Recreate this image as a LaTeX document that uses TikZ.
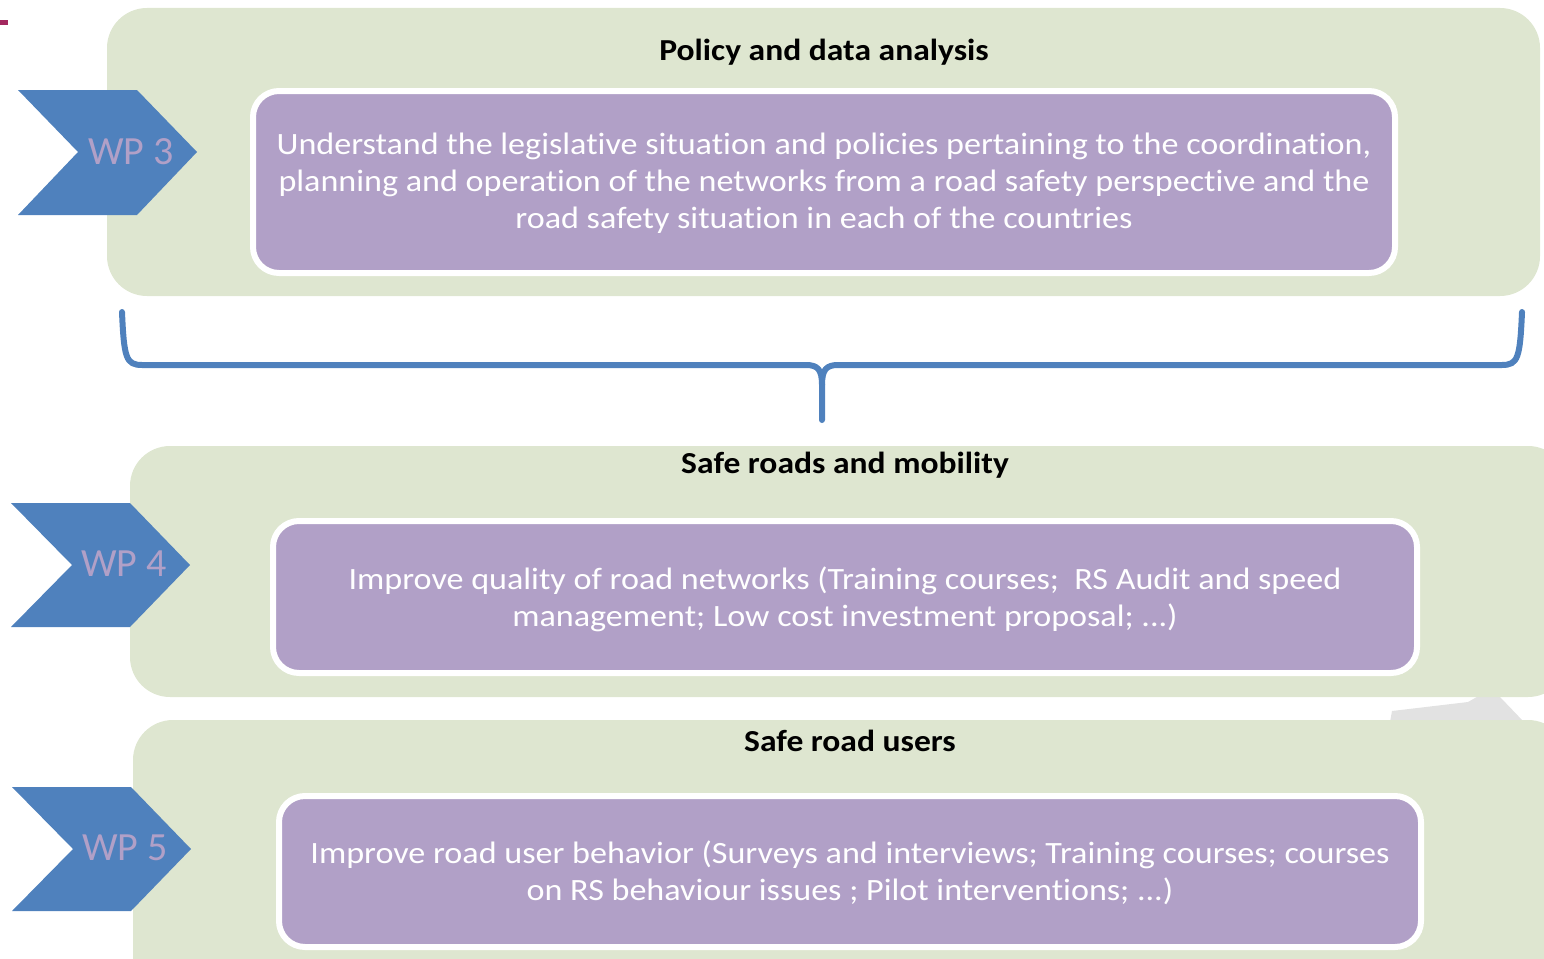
\documentclass[tikz,border=0pt]{standalone}
\usepackage{fontspec}
\setmainfont{Carlito}[Ligatures=NoCommon]
\newfontfamily\widefont[FakeStretch=1.1,Ligatures=NoCommon]{Carlito}
\newfontfamily\titlefont[FakeStretch=1.1,Ligatures=NoCommon,BoldFont={Carlito Bold}]{Carlito}
\definecolor{panelgreen}{HTML}{DEE6D0}
\definecolor{boxpurple}{HTML}{B1A0C7}
\definecolor{chevblue}{HTML}{4F81BD}
\definecolor{markred}{HTML}{A3285F}
\definecolor{ghost}{HTML}{E2E2E2}
\tikzset{
  panel/.style={fill=panelgreen, draw=none, rounded corners=40pt},
  taskbox/.style={fill=boxpurple, draw=white, line width=6pt, rounded corners=26pt},
  tasktext/.style={text=white, align=center, font=\widefont\fontsize{31}{37}\selectfont},
  paneltitle/.style={font=\titlefont\bfseries\fontsize{30.5}{34}\selectfont, text=black},
  chevron/.style={fill=chevblue, draw=none},
  wplabel/.style={text=boxpurple, font=\fontsize{40}{46}\selectfont},
  bracket/.style={draw=chevblue, line width=6pt, line cap=round, line join=round}
}
\begin{document}
\begin{tikzpicture}[x=1pt,y=-1pt]
\useasboundingbox (0,0) rectangle (1544,958);
\begin{scope}
\clip (0,0) rectangle (1544,958);
% grey shape hidden behind the panels
\fill[ghost] (1390,722) -- (1392,711) -- (1468,702) -- (1482,694) -- (1500,697) -- (1524,722) -- cycle;
% panels
\fill[panel] (107,8) rectangle (1540,296);
\fill[panel] (130,446) rectangle (1568,697);
\fill[panel] (133,720) rectangle (1568,1000);
\end{scope}
% red mark
\fill[markred] (0,20) rectangle (8,25);
% titles
\node[paneltitle] (t1) at (824,52) {Policy and data analysis};
\node[paneltitle] (t2) at (845,465) {Safe roads and mobility};
\node[paneltitle] (t3) at (850,741) {Safe road users};
% task boxes
\draw[taskbox] (253,91) rectangle (1395,273);
\node[tasktext] (b1) at (824,183) {Understand the legislative situation and policies pertaining to the coordination,\\planning and operation of the networks from a road safety perspective and the\\road safety situation in each of the countries};
\draw[taskbox] (273,521) rectangle (1417,673);
\node[tasktext] (b2) at (845,599) {Improve quality of road networks (Training courses;\ \ RS Audit and speed\\management; Low cost investment proposal; ...)};
\draw[taskbox] (279,796) rectangle (1421,947);
\node[tasktext] (b3) at (850,873) {Improve road user behavior (Surveys and interviews; Training courses; courses\\on RS behaviour issues ; Pilot interventions; ...)};
% chevrons
\fill[chevron] (18,90) -- (137,90) -- (197,152) -- (137,215) -- (18,215) -- (78,152) -- cycle;
\node[wplabel] (wp3) at (131,152) {WP 3};
\fill[chevron] (11,503) -- (130,503) -- (190,565) -- (130,627) -- (11,627) -- (72,565) -- cycle;
\node[wplabel] (wp4) at (124,564) {WP 4};
\fill[chevron] (12,787) -- (131,787) -- (191,849) -- (131,911) -- (12,911) -- (73,849) -- cycle;
\node[wplabel] (wp5) at (125,848) {WP 5};
% bracket
\coordinate (bl) at (122,312);
\coordinate (br) at (1522,312);
\coordinate (bt) at (822,420);
\draw[bracket] (bl) .. controls (124,358) and (126,365) .. (142,365) -- (806,365) .. controls (818,365) and (822,370) .. (822,385) -- (bt);
\draw[bracket] (br) .. controls (1520,358) and (1518,365) .. (1502,365) -- (838,365) .. controls (826,365) and (822,370) .. (822,385);
\end{tikzpicture}
\end{document}
